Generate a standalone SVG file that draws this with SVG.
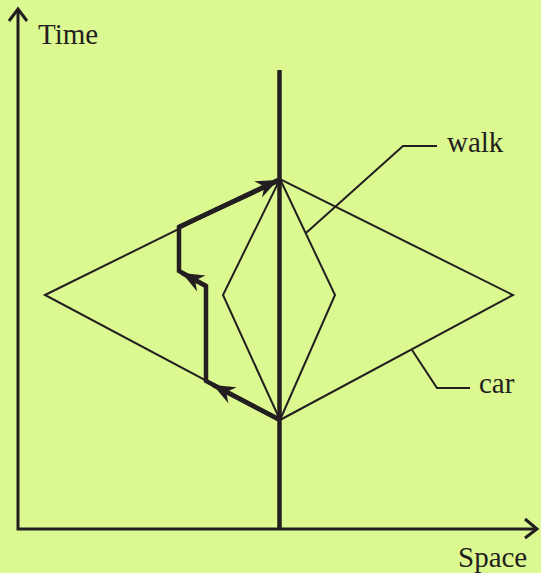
<svg xmlns="http://www.w3.org/2000/svg" width="541" height="573" viewBox="0 0 541 573">
<style>
.thin{fill:none;stroke:#231f20;stroke-width:2}
.axis{fill:none;stroke:#231f20;stroke-width:3}
.thick{fill:none;stroke:#231f20;stroke-width:4.5;stroke-linejoin:miter}
.lbl{font-family:"Liberation Serif","DejaVu Serif",serif;font-size:29px;fill:#231f20}
</style>
<defs>
<marker id="ah" markerUnits="userSpaceOnUse" markerWidth="28" markerHeight="24" viewBox="-26 -12 28 24" refX="0" refY="0" orient="auto" overflow="visible">
<path d="M0,0 L-22,-9 L-15,0 L-22,9 Z" fill="#231f20"/>
</marker>
</defs>
<rect width="541" height="573" fill="#dcf891"/>
<g id="axes">
<path class="axis" d="M18,10 V529 H537"/>
<path class="axis" d="M9,21 L18,9 L27,21"/>
<path class="axis" d="M525,519 L537,529 L525,538"/>
</g>
<g id="time-label"><text class="lbl" x="38" y="44">Time</text></g>
<g id="space-label"><text class="lbl" x="458" y="567">Space</text></g>
<g id="car">
<polygon class="thin" points="45,295 280,179 513,295 280,420"/>
</g>
<g id="walk">
<polygon class="thin" points="280,179 335,295 280,420 223,295"/>
</g>
<g id="worldline">
<path class="thick" d="M279.5,70 V529"/>
</g>
<g id="connectors">
<path class="thin" d="M306,233 L403,146 H437"/>
<path class="thin" d="M412,350 L437,388 H470"/>
<path class="thick" d="M280,420 L206,381 V286 L179,271 V227 L280,180"/>
<path class="thick" d="M280,420 L213,385" marker-end="url(#ah)"/>
<path class="thick" d="M206,286 L182,273" marker-end="url(#ah)"/>
<path class="thick" d="M179,227 L278,180" marker-end="url(#ah)"/>
</g>
<g id="walk-label"><text class="lbl" x="447" y="152">walk</text></g>
<g id="car-label"><text class="lbl" x="479" y="393">car</text></g>
</svg>
